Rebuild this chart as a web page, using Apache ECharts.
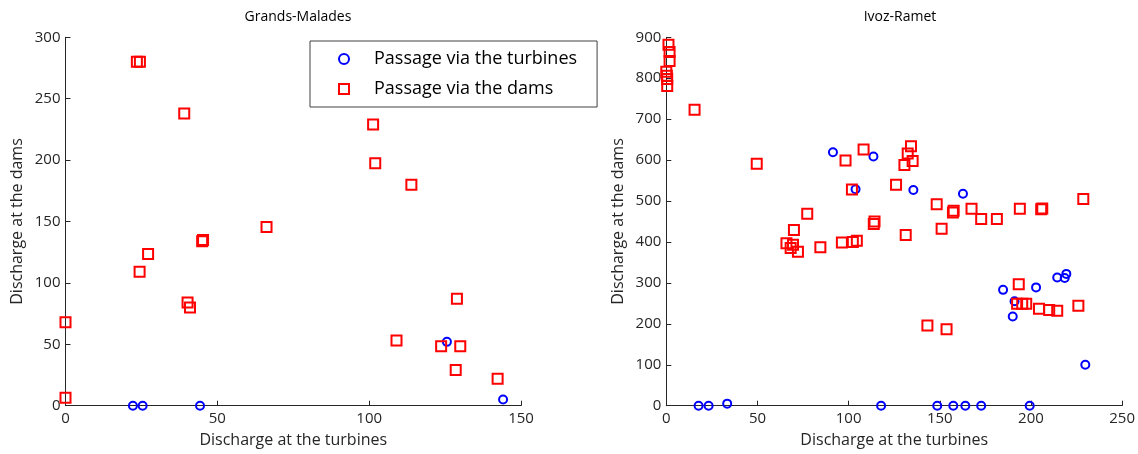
<!DOCTYPE html>
<html>
<head>
<meta charset="utf-8">
<script src="https://cdn.jsdelivr.net/npm/echarts@6/dist/echarts.min.js"></script>
<style>
html,body{margin:0;padding:0;background:#fff;}
#chart{width:1138px;height:454px;}
</style>
</head>
<body>
<div id="chart"></div>
<script>
// Grands-Malades
const gmTurbines = [[22.2,0],[25.4,0],[44.3,0],[125.6,52],[144.1,5]];
const gmDams = [[23.5,280],[24.5,280],[39.1,238],[66.2,145.5],[24.4,109],[27.2,123.5],[40.2,84],[41,80],[45,134],[45.3,135],[0,68],[0,6.5],[101.3,229],[102,197.5],[113.9,180],[128.9,87],[109,53],[123.7,48.5],[130,48.5],[128.5,29],[142.3,22]];
// Ivoz-Ramet
const irTurbines = [[17.7,0],[23.2,0],[33.4,5],[91.4,619],[113.6,609],[103.8,529],[135.5,527],[162.7,518],[117.8,0],[148.6,0],[157.4,0],[164,0],[172.7,0],[199.3,0],[184.7,283],[202.8,289],[214.4,313],[218.5,312],[219.4,322],[191,255],[190,218],[229.8,100]];
const irDams = [[1.2,882],[1.8,864],[1.8,842],[0,816],[0.3,806],[0.5,798],[0.5,781],[15.5,723],[49.6,591],[98.3,599],[108.2,626],[101.8,528],[77.3,469],[70,429],[65.9,397],[69.5,393],[68.2,385],[72.2,376],[84.5,387],[96.3,399],[102.3,400],[104.5,403],[113.8,444],[114.2,450],[134.2,634],[132.4,616],[135.1,598],[130.6,588],[126,540],[148.3,492],[157.2,472],[157.6,476],[167.4,481],[172.7,456],[181.3,456],[193.9,481],[205.6,480],[206.2,482],[228.7,505],[131.3,417],[151,432],[143.2,196],[153.7,187],[193.3,297],[192.4,249],[195.2,249],[197.4,249],[204.4,237],[210,234],[214.4,232],[226,244]];
const titles = ['Grands-Malades','Ivoz-Ramet'];
const xName = 'Discharge at the turbines';
const yName = 'Discharge at the dams';
const legendNames = ['Passage via the turbines','Passage via the dams'];

const FONT = 'Open Sans';
const axisCol = '#262626';
function xAxis(idx, max, interval){
  return {gridIndex: idx, type:'value', min:0, max:max, interval:interval,
    name:xName, nameLocation:'middle', nameGap:27,
    nameTextStyle:{fontFamily:FONT,fontSize:16,color:axisCol},
    axisLine:{lineStyle:{color:axisCol,width:1}},
    axisTick:{show:true,inside:true,length:5,lineStyle:{color:axisCol}},
    axisLabel:{fontFamily:FONT,fontSize:15,color:axisCol,margin:6},
    splitLine:{show:false}};
}
function yAxis(idx, max, interval){
  return {gridIndex: idx, type:'value', min:0, max:max, interval:interval,
    name:yName, nameLocation:'middle', nameGap:40,
    nameTextStyle:{fontFamily:FONT,fontSize:16,color:axisCol},
    axisLine:{show:true,lineStyle:{color:axisCol,width:1}},
    axisTick:{show:true,inside:true,length:5,lineStyle:{color:axisCol}},
    axisLabel:{fontFamily:FONT,fontSize:15,color:axisCol,margin:5},
    splitLine:{show:false}};
}
const blueStyle = {color:'rgba(0,0,0,0)', borderColor:'#0000ff', borderWidth:2, opacity:1};
const redStyle = {color:'rgba(0,0,0,0)', borderColor:'#ff0000', borderWidth:2, opacity:1};

const chart = echarts.init(document.getElementById('chart'));
chart.setOption({
  backgroundColor:'#fff',
  animation:false,
  title:[
    {text:titles[0], left:293, top:5, textAlign:'center', textStyle:{fontFamily:FONT,fontSize:14,fontWeight:'normal',color:'#000'}},
    {text:titles[1], left:895, top:5, textAlign:'center', textStyle:{fontFamily:FONT,fontSize:14,fontWeight:'normal',color:'#000'}}
  ],
  legend:{
    data:[{name:legendNames[0], icon:'circle'},{name:legendNames[1], icon:'rect'}],
    orient:'vertical', left:310, top:41,
    padding:[8,20,8,28], itemGap:10, itemWidth:10, itemHeight:10,
    borderColor:'#404040', borderWidth:1, backgroundColor:'#fff',
    textStyle:{fontFamily:FONT,fontSize:18,lineHeight:20,color:'#000',padding:[0,0,0,20]}
  },
  grid:[
    {left:65.5, right:617, top:37.3, bottom:48.3},
    {left:666.3, right:14.7, top:37.3, bottom:48.3}
  ],
  xAxis:[xAxis(0,150,50), xAxis(1,250,50)],
  yAxis:[yAxis(0,300,50), yAxis(1,900,100)],
  series:[
    {name:legendNames[0], type:'scatter', xAxisIndex:0, yAxisIndex:0, data:gmTurbines, symbol:'circle', symbolSize:8, itemStyle:blueStyle},
    {name:legendNames[1], type:'scatter', xAxisIndex:0, yAxisIndex:0, data:gmDams, symbol:'rect', symbolSize:10, itemStyle:redStyle},
    {name:legendNames[0], type:'scatter', xAxisIndex:1, yAxisIndex:1, data:irTurbines, symbol:'circle', symbolSize:8, itemStyle:blueStyle},
    {name:legendNames[1], type:'scatter', xAxisIndex:1, yAxisIndex:1, data:irDams, symbol:'rect', symbolSize:10, itemStyle:redStyle}
  ]
});
</script>
</body>
</html>
